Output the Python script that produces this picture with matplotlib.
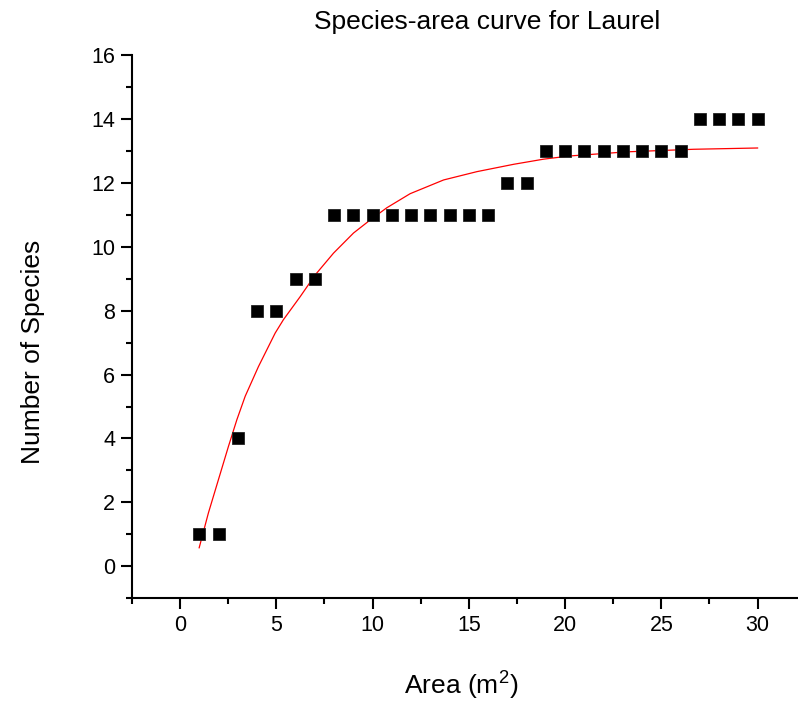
import numpy as np
import matplotlib.pyplot as plt
from matplotlib.ticker import MultipleLocator

plt.rcParams['font.family'] = ['Liberation Sans', 'DejaVu Sans']
plt.rcParams['mathtext.fontset'] = 'custom'
plt.rcParams['mathtext.rm'] = 'Liberation Sans'
plt.rcParams['mathtext.it'] = 'Liberation Sans:italic'

# cumulative species count per sampled area
area = list(range(1, 31))
species = [1, 1, 4, 8, 8, 9, 9, 11, 11, 11, 11, 11, 11, 11, 11, 11,
           12, 12, 13, 13, 13, 13, 13, 13, 13, 13, 14, 14, 14, 14]

# fitted saturation curve
fit_x = [0.99, 1.47, 1.99, 2.51, 2.95, 3.38, 4.07, 4.94, 5.37, 6.24, 7.02,
         7.97, 9.01, 9.88, 10.74, 11.95, 13.69, 15.42, 17.33, 18.88, 20.23,
         23.22, 26.68, 30.0]
fit_y = [0.58, 1.67, 2.71, 3.75, 4.59, 5.32, 6.25, 7.30, 7.72, 8.44, 9.12,
         9.80, 10.43, 10.84, 11.22, 11.66, 12.09, 12.35, 12.58, 12.74, 12.84,
         12.97, 13.05, 13.09]

fig = plt.figure(figsize=(7.98, 7.06), dpi=100)
ax = fig.add_axes([0.1654, 0.1526, 0.8346, 0.7695])

ax.plot(area, species, 's', color='black', markersize=8,
        markeredgecolor='#222222', markeredgewidth=0.6, zorder=3)
ax.plot(fit_x, fit_y, color='red', linewidth=0.9, zorder=2)

ax.set_xlim(-2.5, 32.1)
ax.set_ylim(-1, 16)
ax.xaxis.set_major_locator(MultipleLocator(5))
ax.xaxis.set_minor_locator(MultipleLocator(2.5))
ax.yaxis.set_major_locator(MultipleLocator(2))
ax.yaxis.set_minor_locator(MultipleLocator(1))

for side in ['top', 'right']:
    ax.spines[side].set_visible(False)
for side in ['left', 'bottom']:
    ax.spines[side].set_linewidth(1.5)

ax.tick_params(which='major', direction='out', length=8, width=1.5,
               labelsize=15.5, pad=4)
ax.tick_params(which='minor', direction='out', length=4.5, width=1.5)

fig.text(487.5 / 798, 1 - 22 / 706, 'Species-area curve for Laurel',
         ha='center', va='center', fontsize=19)
fig.text(461 / 798, 1 - 686 / 706, 'Area (m$^2$)',
         ha='center', va='center', fontsize=19)
fig.text(33 / 798, 1 - 352 / 706, 'Number of Species', rotation=90,
         ha='center', va='center', fontsize=19)

fig.savefig('out.png', dpi=100)
